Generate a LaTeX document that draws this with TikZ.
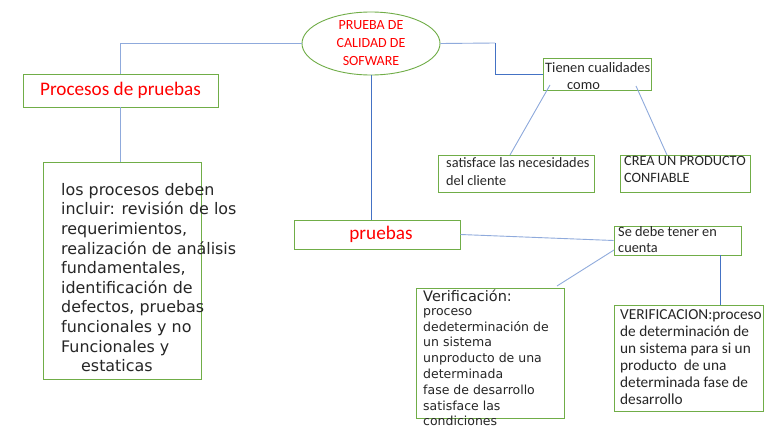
\documentclass[tikz,border=0pt]{standalone}
\usepackage{fontspec}
\setmainfont{Carlito}
\newfontfamily\djv{DejaVu Sans}
\usetikzlibrary{shapes.geometric,calc}
\definecolor{gbox}{HTML}{70AD47}
\definecolor{lblue}{HTML}{8FAADC}
\definecolor{dblue}{HTML}{4472C4}
\definecolor{tred}{HTML}{FF0000}
\definecolor{tgray}{HTML}{262626}
\tikzset{
  box/.style={draw=gbox, line width=0.9pt, rectangle, inner sep=0pt, fill=white},
  txt/.style={inner sep=0pt, anchor=north west, align=left, text=tgray},
  lconn/.style={draw=lblue, line width=0.9pt},
  dconn/.style={draw=dblue, line width=0.9pt},
}
\begin{document}
\begin{tikzpicture}[x=1pt,y=-1pt]
\useasboundingbox[fill=white] (0,0) rectangle (768,433);
% boxes
\node[box, ellipse, minimum width=138pt, minimum height=63pt] (ell) at (371,43.5) {};
\node[box, minimum width=195pt, minimum height=33pt] (proc) at (120.5,90.5) {};
\node[box, minimum width=158pt, minimum height=217pt] (big) at (122,270.5) {};
\node[box, minimum width=166pt, minimum height=29pt] (pru) at (377,234.5) {};
\node[box, minimum width=127pt, minimum height=29pt] (sed) at (677.5,240.5) {};
\node[box, minimum width=148pt, minimum height=130pt] (ver) at (490,353) {};
\node[box, minimum width=149pt, minimum height=106pt] (VER) at (688.5,358) {};
\node[box, minimum width=108pt, minimum height=32pt] (tien) at (597,74) {};
\node[box, minimum width=156pt, minimum height=37pt] (sat) at (516,173.5) {};
\node[box, minimum width=130pt, minimum height=37pt] (crea) at (685,173.5) {};
% connector helper coordinates
\coordinate (k1) at (495,43);
\coordinate (t1) at (550,85);
\coordinate (t2) at (636,86);
\coordinate (s1) at (510,155);
\coordinate (c1) at (667,155);
\coordinate (v1) at (557,286);
\coordinate (q1) at (614,250);
\coordinate (q2) at (720,255);
% connectors
\draw[lconn] (ell.west) -| (proc.north);
\draw[lconn] (proc.south) -- (proc.south |- big.north);
\draw[dconn] (ell.south) -- (ell.south |- pru.north);
\draw[lconn] (ell.east) -- (k1);
\draw[dconn] (k1) |- (tien.west);
\draw[lconn] (t1) -- (s1);
\draw[lconn] (t2) -- (c1);
\draw[lconn] (pru.east) -- (sed.west);
\draw[lconn] (q1) -- (v1);
\draw[dconn] (q2) -- (q2 |- VER.north);
% texts
\node[inner sep=0pt, align=center, text=tred, font={\fontsize{14}{18}\selectfont}] (tell) at (ell.center) {PRUEBA DE\\CALIDAD DE\\SOFWARE};
\node[inner sep=0pt, text=tred, font={\fontsize{19.2}{20}\selectfont}] (tproc) at (proc.center) {Procesos de pruebas};
\node[inner sep=0pt, text=tred, font={\fontsize{19.2}{20}\selectfont}] (tpru) at ($(pru.center)+(4,0)$) {pruebas};
\node[txt, font={\djv\fontsize{15.9}{19.6}\selectfont}] (tbig) at (61,183) {los procesos deben\\incluir: revisión de los\\requerimientos,\\realización de análisis\\fundamentales,\\identificación de\\defectos, pruebas\\funcionales y no\\Funcionales y\\\hspace*{20pt}estaticas};
\node[txt, font={\fontsize{14.4}{17}\selectfont}] (ttien) at (545,62) {Tienen cualidades\\\hspace*{22pt}como};
\node[txt, font={\fontsize{14.3}{18}\selectfont}] (tsat) at (446,157) {satisface las necesidades\\del cliente};
\node[txt, font={\fontsize{14.3}{17}\selectfont}] (tcrea) at (624,156) {CREA UN PRODUCTO\\CONFIABLE};
\node[txt, font={\fontsize{14.3}{16.5}\selectfont}] (tsed) at (618,226) {Se debe tener en\\cuenta};
\node[txt, font={\djv\fontsize{14.5}{16}\selectfont}] (tver1) at (423,290) {Verificación:};
\node[txt, font={\djv\fontsize{12.5}{15.8}\selectfont}] (tver2) at (423,308) {proceso\\dedeterminación de\\un sistema\\unproducto de una\\determinada\\fase de desarrollo\\satisface las\\condiciones};
\node[txt, font={\fontsize{15.3}{17}\selectfont}] (tVER) at (620,309) {VERIFICACION:proceso\\de determinación de\\un sistema para si un\\producto\ \ de una\\determinada fase de\\desarrollo};
\end{tikzpicture}
\end{document}
